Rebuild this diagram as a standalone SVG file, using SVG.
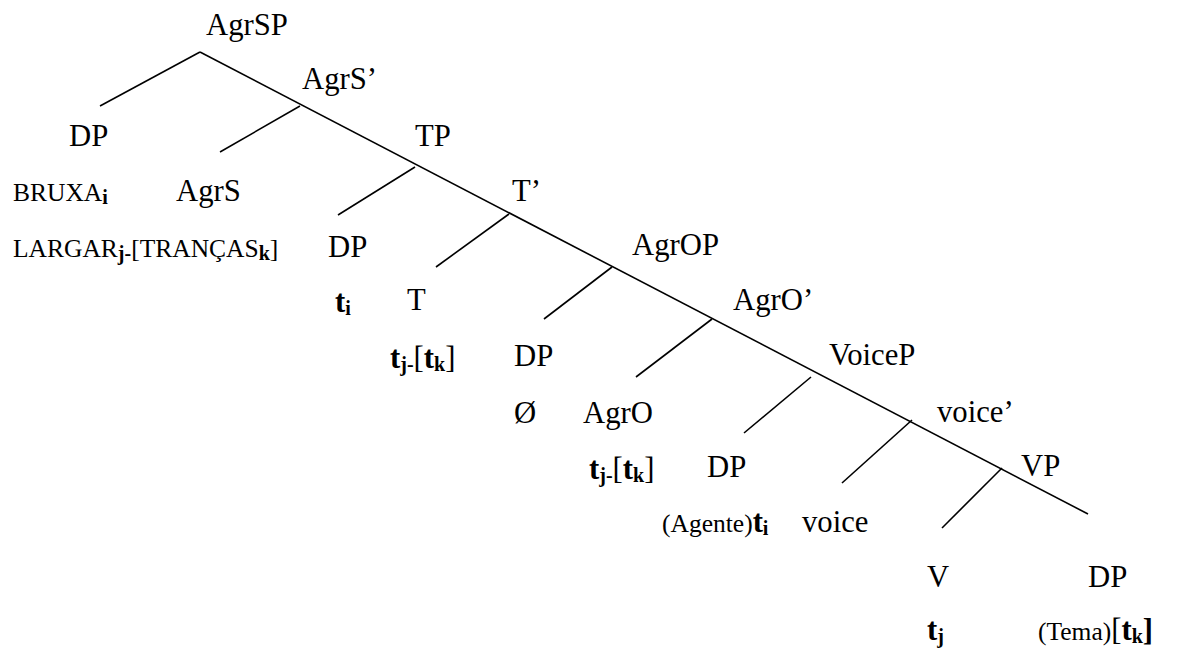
<svg xmlns="http://www.w3.org/2000/svg" width="1177" height="650" viewBox="0 0 1177 650">
  <style>
    text { font-family: "Liberation Serif", "Times New Roman", serif; fill: #000; }
    .lbl { font-size: 30.7px; }
    .lex { font-size: 25.5px; }
    .b { font-weight: bold; }
    .sub { font-size: 20px; font-weight: bold; }
    .edge { stroke: #000; stroke-width: 1.6; fill: none; stroke-linecap: butt; }
  </style>
  <rect width="1177" height="650" fill="#fff"/>

  <!-- tree branches -->
  <g id="connectors">
    <line class="edge" x1="200" y1="52" x2="1088" y2="514"/>
    <line class="edge" x1="200" y1="52" x2="100" y2="106"/>
    <line class="edge" x1="300" y1="106" x2="220" y2="152"/>
    <line class="edge" x1="415" y1="167" x2="338" y2="215"/>
    <line class="edge" x1="509" y1="214" x2="436" y2="267"/>
    <line class="edge" x1="612" y1="267" x2="544" y2="319"/>
    <line class="edge" x1="712" y1="319" x2="636" y2="377"/>
    <line class="edge" x1="811" y1="377" x2="744" y2="433"/>
    <line class="edge" x1="912" y1="420" x2="842" y2="483"/>
    <line class="edge" x1="1002" y1="468" x2="942" y2="528"/>
  </g>

  <!-- AgrSP layer -->
  <g id="n-agrsp"><text class="lbl" x="206" y="35">AgrSP</text></g>
  <g id="n-agrs-bar"><text class="lbl" x="302" y="89">AgrS’</text></g>
  <g id="n-dp-spec-agrs"><text class="lbl" x="69" y="146">DP</text></g>
  <g id="n-bruxa"><text class="lex" x="13" y="201">BRUXA<tspan class="sub" dy="3">i</tspan></text></g>
  <g id="n-agrs"><text class="lbl" x="176" y="201">AgrS</text></g>
  <g id="n-largar"><text class="lex" x="13" y="257">LARGAR<tspan class="sub" dy="3">j-</tspan><tspan dy="-3">[TRANÇAS</tspan><tspan class="sub" dy="3">k</tspan><tspan dy="-3">]</tspan></text></g>

  <!-- TP layer -->
  <g id="n-tp"><text class="lbl" x="415" y="146">TP</text></g>
  <g id="n-t-bar"><text class="lbl" x="512" y="201">T’</text></g>
  <g id="n-dp-spec-t"><text class="lbl" x="328" y="257">DP</text></g>
  <g id="n-ti"><text class="lbl b" x="335" y="312">t<tspan class="sub" dy="3">i</tspan></text></g>
  <g id="n-t"><text class="lbl" x="407" y="310">T</text></g>
  <g id="n-t-trace"><text class="lbl" x="390" y="368"><tspan class="b">t</tspan><tspan class="sub" dy="3">j-</tspan><tspan dy="-3">[</tspan><tspan class="b">t</tspan><tspan class="sub" dy="3">k</tspan><tspan dy="-3">]</tspan></text></g>

  <!-- AgrOP layer -->
  <g id="n-agrop"><text class="lbl" x="632" y="255">AgrOP</text></g>
  <g id="n-agro-bar"><text class="lbl" x="733" y="310">AgrO’</text></g>
  <g id="n-dp-spec-agro"><text class="lbl" x="514" y="366">DP</text></g>
  <g id="n-empty"><text class="lbl" x="514" y="423">Ø</text></g>
  <g id="n-agro"><text class="lbl" x="583" y="423">AgrO</text></g>
  <g id="n-agro-trace"><text class="lbl" x="589" y="479"><tspan class="b">t</tspan><tspan class="sub" dy="3">j-</tspan><tspan dy="-3">[</tspan><tspan class="b">t</tspan><tspan class="sub" dy="3">k</tspan><tspan dy="-3">]</tspan></text></g>

  <!-- VoiceP layer -->
  <g id="n-voicep"><text class="lbl" x="829" y="365">VoiceP</text></g>
  <g id="n-voice-bar"><text class="lbl" x="937" y="422">voice’</text></g>
  <g id="n-dp-agent"><text class="lbl" x="707" y="477">DP</text></g>
  <g id="n-agente"><text class="lex" x="662" y="532">(Agente)<tspan class="lbl b">t</tspan><tspan class="sub" dy="3">i</tspan></text></g>
  <g id="n-voice"><text class="lbl" x="802" y="532">voice</text></g>

  <!-- VP layer -->
  <g id="n-vp"><text class="lbl" x="1021" y="476">VP</text></g>
  <g id="n-v"><text class="lbl" x="927" y="587">V</text></g>
  <g id="n-dp-theme"><text class="lbl" x="1088" y="587">DP</text></g>
  <g id="n-tj"><text class="lbl b" x="927" y="640">t<tspan class="sub" dy="3">j</tspan></text></g>
  <g id="n-tema"><text class="lex" x="1038" y="640">(Tema)<tspan class="lbl">[</tspan><tspan class="lbl b">t</tspan><tspan class="sub" dy="3">k</tspan><tspan class="lbl b" dy="-3">]</tspan></text></g>
</svg>
